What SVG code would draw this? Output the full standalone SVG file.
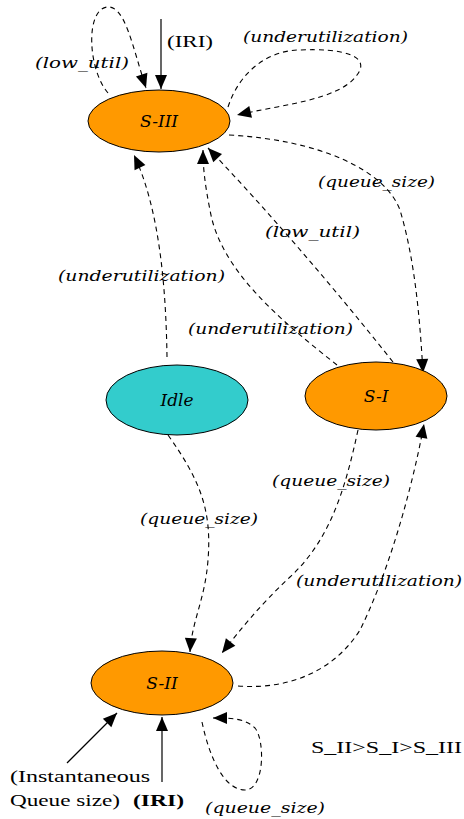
<svg xmlns="http://www.w3.org/2000/svg" width="464" height="819" viewBox="0 0 464 819">
<style>
.bg{fill:#fff}
.node{stroke:#000;stroke-width:1}
.orange{fill:#FF9900}
.cyan{fill:#33CCCC}
.nl{font-family:"DejaVu Serif","Liberation Serif",serif;font-style:italic;font-size:17px;fill:#000;text-anchor:middle}
.lbl{font-family:"DejaVu Serif","Liberation Serif",serif;font-style:italic;font-size:14px;fill:#000}
.up{font-family:"Liberation Serif","DejaVu Serif",serif;font-size:16px;fill:#000}
.dash{fill:none;stroke:#000;stroke-width:1.1;stroke-dasharray:5,4;marker-end:url(#ah)}
.solid{fill:none;stroke:#000;stroke-width:1.2;marker-end:url(#ah)}
</style>
<defs>
<marker id="ah" markerUnits="userSpaceOnUse" markerWidth="14" markerHeight="12" refX="14" refY="6" orient="auto" overflow="visible">
<path d="M0,0 L14,6 L0,12 z" fill="#000"/>
</marker>
</defs>
<rect class="bg" x="0" y="0" width="464" height="819"/>
<g id="connectors">
<path id="e-iri-top" class="solid" d="M161,19 L161,89"/>
<path id="e-lowutil-loop" class="dash" d="M108,93 C 88,70 85,10 107,7 C 125,5 132,45 146,88"/>
<path id="e-underutil-loop" class="dash" d="M228,107 C 240,70 270,50 300,50 C 340,48 372,55 357,75 C 340,100 280,105 237,115"/>
<path id="e-s3-s1" class="dash" d="M229,135 C 320,140 385,170 400,210 C 415,260 420,320 423,373"/>
<path id="e-s1-s3-low" class="dash" d="M393,362 Q 300,245 208,148"/>
<path id="e-s1-s3-under" class="dash" d="M337,365 C 280,320 220,270 210,210 C 205,185 203,168 203,150"/>
<path id="e-idle-s3" class="dash" d="M167,357 C 166,290 160,210 134,155"/>
<path id="e-idle-s2" class="dash" d="M168,435 C 200,480 212,510 208,560 C 205,600 192,620 190,652"/>
<path id="e-s1-s2" class="dash" d="M358,430 C 345,490 330,540 290,577 C 260,605 240,630 222,653"/>
<path id="e-s2-s1" class="dash" d="M238,686 C 290,690 335,670 360,630 C 385,580 410,500 424,424"/>
<path id="e-inst" class="solid" d="M67,763 L117,713"/>
<path id="e-iri-bot" class="solid" d="M162,782 L162,717"/>
<path id="e-s2-loop" class="dash" d="M202,722 C 210,760 225,790 245,790 C 265,790 265,740 255,728 C 245,718 230,718 213,718"/>
</g>
<g id="labels">
<text class="lbl" x="35" y="68" textLength="94" lengthAdjust="spacingAndGlyphs">(low_util)</text>
<text class="up" x="167" y="47" textLength="46" lengthAdjust="spacingAndGlyphs">(IRI)</text>
<text class="lbl" x="243" y="42" textLength="165" lengthAdjust="spacingAndGlyphs">(underutilization)</text>
<text class="lbl" x="318" y="187" textLength="117" lengthAdjust="spacingAndGlyphs">(queue_size)</text>
<text class="lbl" x="265" y="237" textLength="95" lengthAdjust="spacingAndGlyphs">(low_util)</text>
<text class="lbl" x="58" y="281" textLength="167" lengthAdjust="spacingAndGlyphs">(underutilization)</text>
<text class="lbl" x="188" y="334" textLength="165" lengthAdjust="spacingAndGlyphs">(underutilization)</text>
<text class="lbl" x="272" y="486" textLength="118" lengthAdjust="spacingAndGlyphs">(queue_size)</text>
<text class="lbl" x="140" y="524" textLength="118" lengthAdjust="spacingAndGlyphs">(queue_size)</text>
<text class="lbl" x="296" y="586" textLength="166" lengthAdjust="spacingAndGlyphs">(underutilization)</text>
<text class="up" x="311" y="753" textLength="151" lengthAdjust="spacingAndGlyphs">S_II&gt;S_I&gt;S_III</text>
<text class="up" x="10" y="782" textLength="140" lengthAdjust="spacingAndGlyphs">(Instantaneous</text>
<text class="up" x="10" y="806" textLength="110" lengthAdjust="spacingAndGlyphs">Queue size)</text>
<text class="up" x="133" y="806" font-weight="bold" textLength="51" lengthAdjust="spacingAndGlyphs">(IRI)</text>
<text class="lbl" x="205" y="813" textLength="120" lengthAdjust="spacingAndGlyphs">(queue_size)</text>
</g>
<g id="node-s3">
<ellipse class="node orange" cx="159" cy="121" rx="71" ry="31"/>
<text class="nl" x="159" y="127">S-III</text>
</g>
<g id="node-idle">
<ellipse class="node cyan" cx="177" cy="400" rx="71" ry="35"/>
<text class="nl" x="177" y="406">Idle</text>
</g>
<g id="node-s1">
<ellipse class="node orange" cx="376" cy="396" rx="71" ry="34"/>
<text class="nl" x="376" y="402">S-I</text>
</g>
<g id="node-s2">
<ellipse class="node orange" cx="162" cy="683" rx="71" ry="32"/>
<text class="nl" x="162" y="689">S-II</text>
</g>
</svg>
